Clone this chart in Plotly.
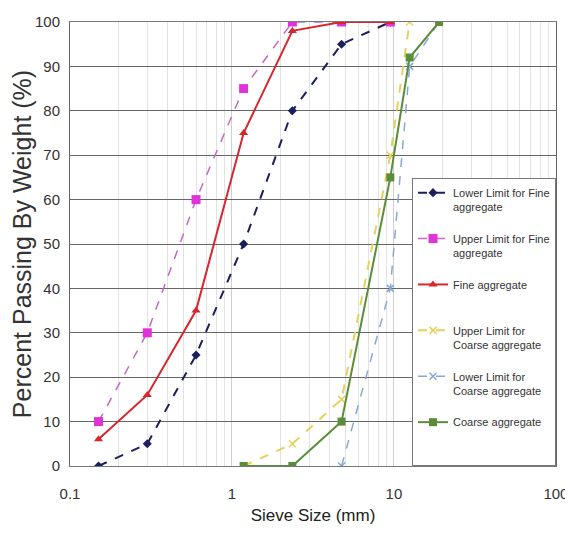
import plotly.graph_objects as go

# Sieve sizes (mm)
fine_sieves = [0.15, 0.3, 0.6, 1.18, 2.36, 4.75, 9.5]
lower_fine = [0, 5, 25, 50, 80, 95, 100]
upper_fine = [10, 30, 60, 85, 100, 100, 100]
fine_agg = [6, 16, 35, 75, 98, 100, 100]

upper_coarse_sieves = [1.18, 2.36, 4.75, 9.5, 12.5]
upper_coarse = [0, 5, 15, 70, 100]

lower_coarse_sieves = [4.75, 9.5, 12.5, 19]
lower_coarse = [0, 40, 90, 100]

coarse_sieves = [1.18, 2.36, 4.75, 9.5, 12.5, 19]
coarse_agg = [0, 0, 10, 65, 92, 100]

x_tickvals = [0.1, 1, 10, 100]
x_ticktext = ["0.1", "1", "10", "100"]
y_tickvals = list(range(0, 101, 10))

NARROW = "Liberation Sans Narrow, Arial Narrow, Liberation Sans, Arial, sans-serif"

fig = go.Figure()

fig.add_trace(go.Scatter(
    x=fine_sieves, y=lower_fine, mode="lines+markers",
    name="Lower Limit for Fine<br>aggregate<br> ",
    line=dict(color="#1c1f5e", width=2, dash="dash"),
    marker=dict(symbol="diamond", size=7, color="#1c1f5e"),
))
fig.add_trace(go.Scatter(
    x=fine_sieves, y=upper_fine, mode="lines+markers",
    name="Upper Limit for Fine<br>aggregate<br> ",
    line=dict(color="#c368c8", width=1.5, dash="dash"),
    marker=dict(symbol="square", size=9, color="#e032d8"),
))
fig.add_trace(go.Scatter(
    x=fine_sieves, y=fine_agg, mode="lines+markers",
    name="Fine aggregate<br> <br> ",
    line=dict(color="#d8262e", width=2),
    marker=dict(symbol="triangle-up", size=8, color="#d8262e"),
))
fig.add_trace(go.Scatter(
    x=upper_coarse_sieves, y=upper_coarse, mode="lines+markers",
    name="Upper Limit for<br>Coarse aggregate<br> ",
    line=dict(color="#e5d25c", width=2, dash="dash"),
    marker=dict(symbol="x-thin", size=7, color="#e5d25c", line=dict(color="#e5d25c", width=1.5)),
))
fig.add_trace(go.Scatter(
    x=lower_coarse_sieves, y=lower_coarse, mode="lines+markers",
    name="Lower Limit for<br>Coarse aggregate<br> ",
    line=dict(color="#88a8d4", width=1.5, dash="dash"),
    marker=dict(symbol="x-thin", size=7, color="#88a8d4", line=dict(color="#88a8d4", width=1.5)),
))
fig.add_trace(go.Scatter(
    x=coarse_sieves, y=coarse_agg, mode="lines+markers",
    name="Coarse aggregate<br> <br> ",
    line=dict(color="#5b8c3a", width=2),
    marker=dict(symbol="square", size=8, color="#5b8c3a"),
))

fig.update_layout(
    width=565, height=533,
    margin=dict(l=62, r=17, t=14, b=75),
    paper_bgcolor="white",
    plot_bgcolor="white",
    font=dict(family=NARROW, color="#333333"),
    legend=dict(
        x=1, xanchor="right", y=0, yanchor="bottom",
        bgcolor="white", bordercolor="#777777", borderwidth=1,
        font=dict(family=NARROW, size=11, color="#333333"),
        valign="top",
        tracegroupgap=0,
    ),
    showlegend=True,
)

fig.update_xaxes(
    type="log", range=[-1, 2.0005], automargin=False,
    tickvals=x_tickvals, ticktext=x_ticktext,
    tickfont=dict(family=NARROW, size=15, color="#333333"),
    ticks="", ticklabelstandoff=14,
    showgrid=True, gridcolor="#cfcfcf", gridwidth=1,
    minor=dict(showgrid=True, dtick="D1", gridcolor="#e2e2e2", gridwidth=1),
    showline=True, linecolor="#777777", linewidth=1, mirror=True,
    zeroline=False,
    title=dict(text="Sieve Size (mm)", font=dict(family=NARROW, size=17, color="#222222"), standoff=8),
)
fig.update_yaxes(
    range=[0, 100], tickvals=y_tickvals, automargin=False,
    tickfont=dict(family=NARROW, size=15, color="#333333"),
    ticks="", ticklabelstandoff=6,
    showgrid=True, gridcolor="#666666", gridwidth=1.2,
    showline=True, linecolor="#666666", linewidth=1, mirror=True,
    zeroline=False,
    title=dict(text="Percent Passing By Weight (%)", font=dict(family="Liberation Sans, Arial, sans-serif", size=25, color="#333333"), standoff=2),
)

fig.write_html("out.html")
